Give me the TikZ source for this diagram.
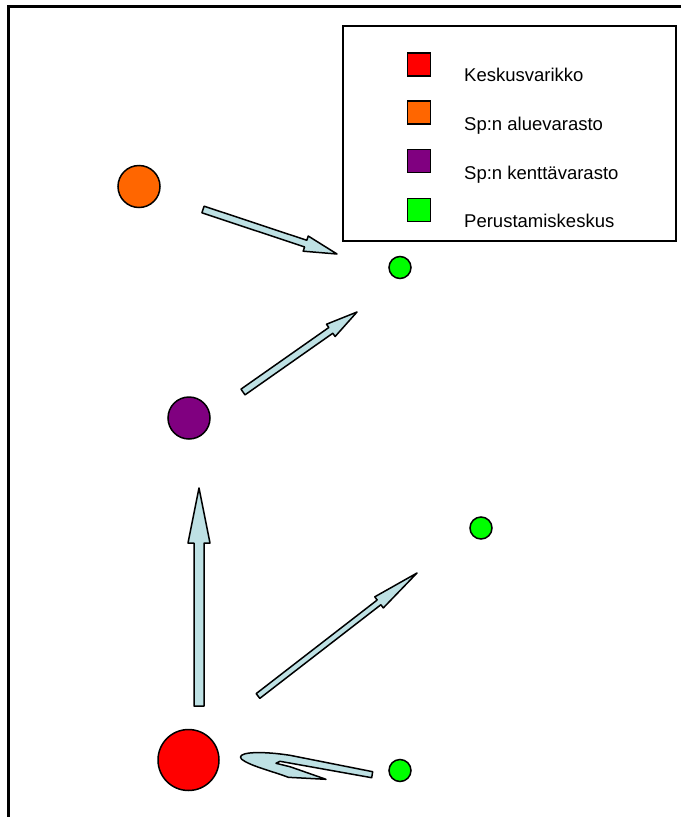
\documentclass[tikz,border=0pt]{standalone}
\usepackage{fontspec}
\setmainfont{Liberation Sans}
\usetikzlibrary{positioning,calc}
\definecolor{varikko}{RGB}{255,0,0}
\definecolor{alue}{RGB}{255,102,0}
\definecolor{kentta}{RGB}{128,0,128}
\definecolor{perustamis}{RGB}{0,255,0}
\definecolor{nuoli}{RGB}{190,225,228}
\tikzset{
depot/.style = {circle, draw, line width=1.5pt, minimum size=#1, inner sep=0pt, outer sep=0pt},
depot/.default = 42pt % circle diameter
}
\tikzset{key/.style={draw, line width=1.5pt, minimum size=23pt, inner sep=0pt}}
\tikzset{keytext/.style={anchor=base west, inner sep=0pt, font=\fontsize{18.5}{22}\selectfont}}
\tikzset{blockarrow/.style={draw, line width=1.5pt, fill=nuoli, line join=round}}
% block arrow: tail, tip, half shaft, half head, head length
\newcommand{\blockarr}[5]{%
  \coordinate (hb) at ($(#2)!#5!(#1)$);
  \draw[blockarrow] ($(#1)!#3!90:(#2)$) -- ($(hb)!#3!-90:(#1)$) -- ($(hb)!#4!-90:(#1)$)
    -- (#2) -- ($(hb)!#4!90:(#1)$) -- ($(hb)!#3!90:(#1)$) -- ($(#1)!#3!-90:(#2)$) -- cycle;
}

\begin{document}
\begin{tikzpicture}[x=1pt, y=-1pt]
      \useasboundingbox (0,0) rectangle (681,817);
      \draw[line width=3pt] (8,817) -- (8,6) -- (681,6);
      % legend
      \draw[line width=1.5pt] (343,26) rectangle (676,241);
      \node [key, fill=varikko] (k1) at (419,64.5) {};
      \node [key, fill=alue] (k2) at (419,112.5) {};
      \node [key, fill=kentta] (k3) at (419,161) {};
      \node [key, fill=perustamis] (k4) at (419,210) {};
      \node [keytext] (t1) at (464,81.5) {Keskusvarikko};
      \node [keytext] (t2) at (464,130) {Sp:n aluevarasto};
      \node [keytext] (t3) at (464,179) {Sp:n kenttävarasto};
      \node [keytext] (t4) at (464,227.5) {Perustamiskeskus};
      % depots
      \node [depot, fill=alue] (av) at (139,186.5) {};
      \node [depot, fill=kentta] (kv) at (189,418) {};
      \node [depot=61pt, fill=varikko] (cv) at (188.5,760) {};
      \node [depot=22pt, fill=perustamis] (pk1) at (400,267.5) {};
      \node [depot=22pt, fill=perustamis] (pk2) at (481,528) {};
      \node [depot=22pt, fill=perustamis] (pk3) at (400,770.5) {};
      % arrows
      \coordinate (a1s) at (203,209.5);
      \coordinate (a1e) at (337,254);
      \coordinate (a2s) at (243,392);
      \coordinate (a2e) at (357,312);
      \coordinate (a3s) at (199,706);
      \coordinate (a3e) at (199,488);
      \coordinate (a4s) at (258,696);
      \coordinate (a4e) at (417,573);
      \blockarr{a1s}{a1e}{3.5pt}{8pt}{33pt}
      \blockarr{a2s}{a2e}{3.5pt}{7.5pt}{32pt}
      \blockarr{a3s}{a3e}{5pt}{11pt}{55pt}
      \blockarr{a4s}{a4e}{3pt}{7pt}{48pt}
      \draw[blockarrow] (372.7,771.7) -- (290,755.3)
        .. controls (255,750) and (235,753) .. (241.7,759.3)
        .. controls (250,766) and (275,772) .. (288.3,777.3)
        -- (326,779.3) -- (290,766.7) -- (276,763.3) -- (280,761.3)
        -- (371.7,777.7) -- cycle;
\end{tikzpicture}
\end{document}
